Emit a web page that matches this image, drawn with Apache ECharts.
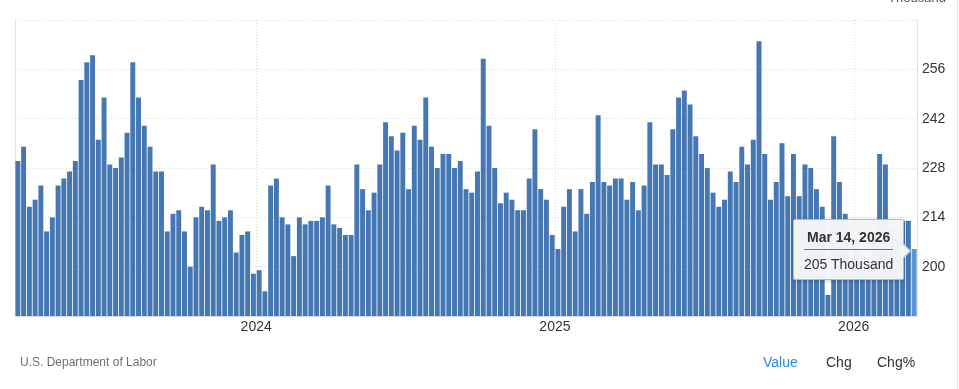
<!DOCTYPE html>
<html>
<head>
<meta charset="utf-8">
<script src="https://cdn.jsdelivr.net/npm/echarts@6/dist/echarts.min.js"></script>
<style>
  html, body { margin: 0; padding: 0; background: #fff; }
  #chart { width: 959px; height: 389px; }
</style>
</head>
<body>
<div id="chart"></div>
<script>
// Weekly categories: first week ending 2023-03-18, last week ending 2026-03-14
const START_WEEK = '2023-03-18';
const WEEK_COUNT = 157;

// Initial jobless claims (thousand)
const claims = [
  230, 234, 217, 219, 223, 210, 214, 223, 225, 227,
  230, 253, 258, 260, 236, 248, 229, 228, 231, 238,
  258, 248, 240, 234, 227, 227, 210, 215, 216, 210,
  200, 214, 217, 216, 229, 213, 214, 216, 204, 209,
  210, 198, 199, 193, 223, 225, 214, 212, 203, 214,
  212, 213, 213, 214, 223, 212, 211, 209, 209, 229,
  222, 216, 221, 229, 241, 237, 233, 238, 222, 240,
  236, 248, 234, 228, 232, 232, 228, 230, 222, 221,
  227, 259, 240, 228, 218, 221, 219, 216, 216, 225,
  239, 222, 219, 209, 205, 217, 222, 210, 222, 215,
  224, 243, 224, 223, 225, 225, 219, 224, 216, 223,
  241, 229, 229, 226, 239, 248, 250, 246, 237, 232,
  228, 221, 217, 219, 227, 224, 234, 229, 236, 264,
  232, 219, 224, 235, 220, 232, 220, 229, 228, 222,
  217, 192, 237, 224, 215, 199, 208, 199, 200, 209,
  232, 229, 211, 208, 213, 213, 205
];

const yTicks = [200, 214, 228, 242, 256];
const footerSource = 'U.S. Department of Labor';
const footerTabs = ['Value', 'Chg', 'Chg%'];
const unitName = 'Thousand';

const MONTHS = ['Jan','Feb','Mar','Apr','May','Jun','Jul','Aug','Sep','Oct','Nov','Dec'];
const weeks = [];
(function () {
  const p = START_WEEK.split('-').map(Number);
  for (let i = 0; i < WEEK_COUNT; i++) {
    const d = new Date(Date.UTC(p[0], p[1] - 1, p[2] + 7 * i));
    weeks.push(d.toISOString().slice(0, 10));
  }
})();

function isFirstWeekOfYear(idx) {
  if (idx === 0) return false;
  return weeks[idx].slice(0, 4) !== weeks[idx - 1].slice(0, 4);
}
function fmtDate(s) {
  const p = s.split('-').map(Number);
  return MONTHS[p[1] - 1] + ' ' + p[2] + ', ' + p[0];
}

const BAR = '#4577b2';
const BAR_HI = '#5b92d8';
const lastIdx = claims.length - 1;
const barData = claims.map((v, i) => i === lastIdx
  ? { value: v, itemStyle: { color: BAR_HI } }
  : v);

const FONT = '"Liberation Sans", Arial, Helvetica, sans-serif';

const chart = echarts.init(document.getElementById('chart'), null, { renderer: 'canvas' });
chart.setOption({
  animation: false,
  textStyle: { fontFamily: FONT },
  grid: { left: 15, right: 42, top: 20, bottom: 73, containLabel: false, outerBoundsMode: 'none' },
  xAxis: {
    type: 'category',
    data: weeks,
    boundaryGap: true,
    axisLine: { show: true, lineStyle: { color: '#dcdcdc', width: 1 } },
    axisTick: { show: false },
    axisLabel: {
      interval: (idx) => isFirstWeekOfYear(idx),
      formatter: (v) => v.slice(0, 4),
      color: '#333',
      fontSize: 14,
      fontFamily: FONT,
      margin: 4,
      padding: [0, 6, 0, 0]
    },
    splitLine: {
      show: true,
      interval: (idx) => isFirstWeekOfYear(idx),
      lineStyle: { color: '#d9d9d9', type: [1, 2], width: 1 }
    }
  },
  yAxis: [{
    type: 'value',
    position: 'right',
    min: 186,
    max: 270,
    interval: 14,
    name: unitName,
    nameLocation: 'end',
    nameGap: 15,
    nameTextStyle: { color: '#555', fontSize: 13, fontFamily: FONT, align: 'center' },
    axisLine: { show: true, lineStyle: { color: '#e3e3e3' } },
    axisTick: { show: false },
    axisLabel: {
      show: true,
      color: '#333',
      fontSize: 14,
      fontFamily: FONT,
      margin: 5,
      showMinLabel: false,
      showMaxLabel: false,
      formatter: (v) => yTicks.indexOf(v) >= 0 ? String(v) : ''
    },
    splitLine: { show: true, lineStyle: { color: '#d9d9d9', type: [1, 2], width: 1 } }
  }, {
    type: 'value',
    position: 'left',
    min: 186,
    max: 270,
    interval: 14,
    axisLine: { show: true, lineStyle: { color: '#e3e3e3' } },
    axisTick: { show: false },
    axisLabel: { show: false },
    splitLine: { show: false }
  }],
  tooltip: {
    trigger: 'item',
    alwaysShowContent: true,
    transitionDuration: 0,
    showDelay: 0,
    hideDelay: 0,
    backgroundColor: 'rgba(244,245,247,0.97)',
    borderColor: '#aebbcc',
    borderWidth: 1,
    padding: [8, 10, 6, 10],
    extraCssText: 'box-shadow: 0 1px 4px rgba(0,0,0,0.18); border-radius: 2px; overflow: visible;',
    position: function (point, params, dom, rect, size) {
      const w = size.contentSize[0], h = size.contentSize[1];
      if (rect) return [rect.x - w - 8, rect.y - h / 2];
      return [point[0] - w - 10, point[1] - h / 2];
    },
    formatter: function (p) {
      return '<div style="position:relative;font-family:' + FONT.replace(/"/g, "'") + ';">' +
        '<div style="text-align:center;font-weight:bold;font-size:14px;color:#333;line-height:18px;padding-bottom:3px;border-bottom:1px solid #777;margin-bottom:5px;">' +
        fmtDate(weeks[p.dataIndex]) + '</div>' +
        '<div style="text-align:center;font-size:14px;color:#333;line-height:18px;">' + p.value + ' ' + unitName + '</div>' +
        '<div style="position:absolute;right:-16px;top:50%;margin-top:-5px;width:9px;height:9px;background:rgba(244,245,247,1);border-top:1px solid #aebbcc;border-right:1px solid #aebbcc;transform:rotate(45deg);"></div>' +
        '</div>';
    }
  },
  series: [{
    type: 'bar',
    data: barData,
    barCategoryGap: '14%',
    itemStyle: { color: BAR },
    emphasis: { disabled: true },
    yAxisIndex: 0
  }],
  graphic: [
    { type: 'line', shape: { x1: 957.5, y1: 0, x2: 957.5, y2: 389 }, style: { stroke: '#e6e6e6', lineWidth: 1 }, silent: true },
    { type: 'text', left: 20, top: 357, style: { text: footerSource, fill: '#6f6f6f', fontSize: 12, fontFamily: FONT } },
    { type: 'text', left: 763, top: 356, style: { text: footerTabs[0], fill: '#2a8ae6', fontSize: 14, fontFamily: FONT } },
    { type: 'text', left: 826, top: 356, style: { text: footerTabs[1], fill: '#333', fontSize: 14, fontFamily: FONT } },
    { type: 'text', left: 877, top: 356, style: { text: footerTabs[2], fill: '#333', fontSize: 14, fontFamily: FONT } }
  ]
});

chart.dispatchAction({ type: 'showTip', seriesIndex: 0, dataIndex: lastIdx });
</script>
</body>
</html>
